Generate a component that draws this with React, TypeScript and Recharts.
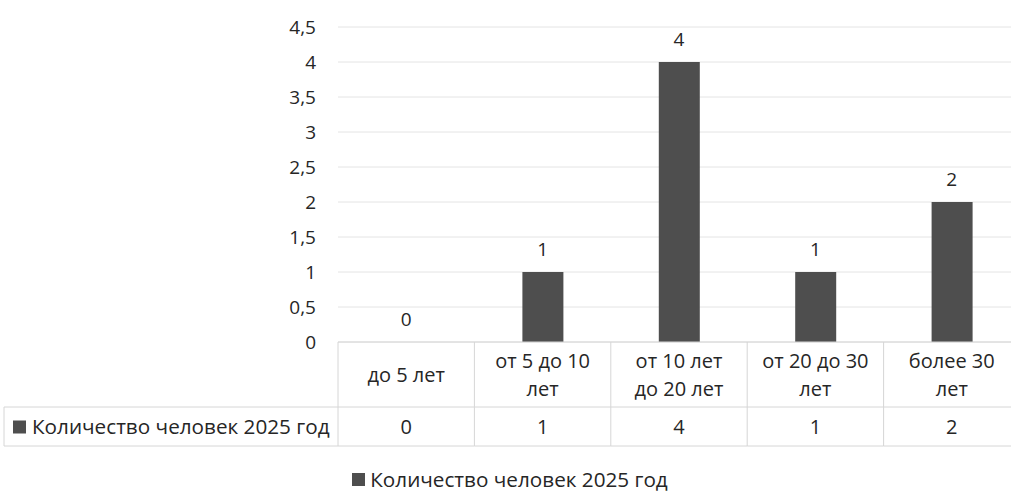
import React from 'react'
import { ComposedChart, Bar, Line, XAxis, YAxis, CartesianGrid, LabelList, Legend } from 'recharts'

const categories = ['до 5 лет', 'от 5 до 10 лет', 'от 10 лет до 20 лет', 'от 20 до 30 лет', 'более 30 лет']
const people2025 = [0, 1, 4, 1, 2]
const yTicks = [0, 0.5, 1, 1.5, 2, 2.5, 3, 3.5, 4, 4.5]
const seriesName = 'Количество человек 2025 год'

const data = categories.map((c, i) => ({ category: c, value: people2025[i] }))

const CHART_W = 1020
const CHART_H = 492
const Y_AXIS_W = 338
const BAND = (CHART_W - Y_AXIS_W) / categories.length
const TABLE_H = 104
const ROW1_H = 65
const FONT = '"Open Sans", "Noto Sans", sans-serif'
const FS = 20
const TEXT = '#262626'
const BORDER = '#d6d6d6'
const BAR = '#4e4e4e'

// excel-style wrap of the category labels
function wrap(label: string, max = 11) {
  const lines: string[] = []
  let cur = ''
  for (const w of label.split(' ')) {
    const next = cur ? cur + ' ' + w : w
    if (next.length > max && cur) {
      lines.push(cur)
      cur = w
    } else cur = next
  }
  if (cur) lines.push(cur)
  return lines
}

function TableTick(props: any) {
  const { x, y, payload, index } = props
  const left = x - BAND / 2
  const right = x + BAND / 2
  const lines = wrap(payload.value)
  const lh = 28
  const firstY = y + ROW1_H / 2 - ((lines.length - 1) * lh) / 2
  const rowY = y + (ROW1_H + TABLE_H) / 2
  return (
    <g>
      <line x1={left} y1={y} x2={left} y2={y + TABLE_H} stroke={BORDER} />
      {index === categories.length - 1 && <line x1={right} y1={y} x2={right} y2={y + TABLE_H} stroke={BORDER} />}
      <line x1={left} y1={y + ROW1_H} x2={right} y2={y + ROW1_H} stroke={BORDER} />
      <line x1={left} y1={y + TABLE_H} x2={right} y2={y + TABLE_H} stroke={BORDER} />
      {lines.map((l, i) => (
        <text key={i} x={x} y={firstY + i * lh} textAnchor="middle" dominantBaseline="central"
          fontSize={FS} fontFamily={FONT} fill={TEXT}>
          {l}
        </text>
      ))}
      <text x={x} y={rowY} textAnchor="middle" dominantBaseline="central"
        fontSize={FS} fontFamily={FONT} fill={TEXT}>
        {people2025[index]}
      </text>
      {index === 0 && (
        <g>
          <line x1={4} y1={y + ROW1_H} x2={left} y2={y + ROW1_H} stroke={BORDER} />
          <line x1={4} y1={y + TABLE_H} x2={left} y2={y + TABLE_H} stroke={BORDER} />
          <line x1={4} y1={y + ROW1_H} x2={4} y2={y + TABLE_H} stroke={BORDER} />
          <rect x={13} y={rowY - 6} width={13} height={13} fill={BAR} />
          <text x={32} y={rowY - 1} dominantBaseline="central"
            fontSize={20.7} fontFamily={FONT} fill={TEXT}>
            {seriesName}
          </text>
        </g>
      )}
    </g>
  )
}

function LegendContent() {
  return (
    <div style={{ display: 'flex', justifyContent: 'center', alignItems: 'center', paddingTop: 19, fontFamily: FONT, fontSize: 20.7, color: TEXT }}>
      <span style={{ width: 13, height: 13, background: BAR, display: 'inline-block', marginRight: 5 }} />
      {seriesName}
    </div>
  )
}

export default function App() {
  return (
    <div style={{ width: 1011, height: 492, overflow: 'hidden', background: '#fff' }}>
      <style>{`body { margin: 0; }`}</style>
      <ComposedChart width={CHART_W} height={CHART_H} data={data} margin={{ top: 27, right: 0, left: 0, bottom: 0 }} barCategoryGap={0}>
        <CartesianGrid vertical={false} stroke="#e4e4e4" />
        <YAxis
          width={Y_AXIS_W}
          domain={[0, 4.5]}
          ticks={yTicks}
          interval={0}
          axisLine={false}
          tickLine={false}
          tickSize={0}
          tickMargin={22}
          tickFormatter={(v: number) => String(v).replace('.', ',')}
          tick={{ fontSize: 19, fontFamily: FONT, fill: TEXT }}
        />
        <XAxis
          dataKey="category"
          height={TABLE_H}
          interval={0}
          axisLine={{ stroke: BORDER }}
          tickLine={false}
          tickSize={0}
          tickMargin={0}
          tick={<TableTick />}
        />
        <Legend verticalAlign="bottom" height={46} content={<LegendContent />} />
        <Bar dataKey="value" name={seriesName} fill={BAR} barSize={41} isAnimationActive={false} />
        {/* invisible line only carries the data labels, so the zero bar gets its "0" too */}
        <Line dataKey="value" stroke="none" dot={false} activeDot={false} legendType="none" isAnimationActive={false}>
          <LabelList dataKey="value" position="top" offset={16} fontSize={19} fontFamily={FONT} fill={TEXT} />
        </Line>
      </ComposedChart>
    </div>
  )
}
